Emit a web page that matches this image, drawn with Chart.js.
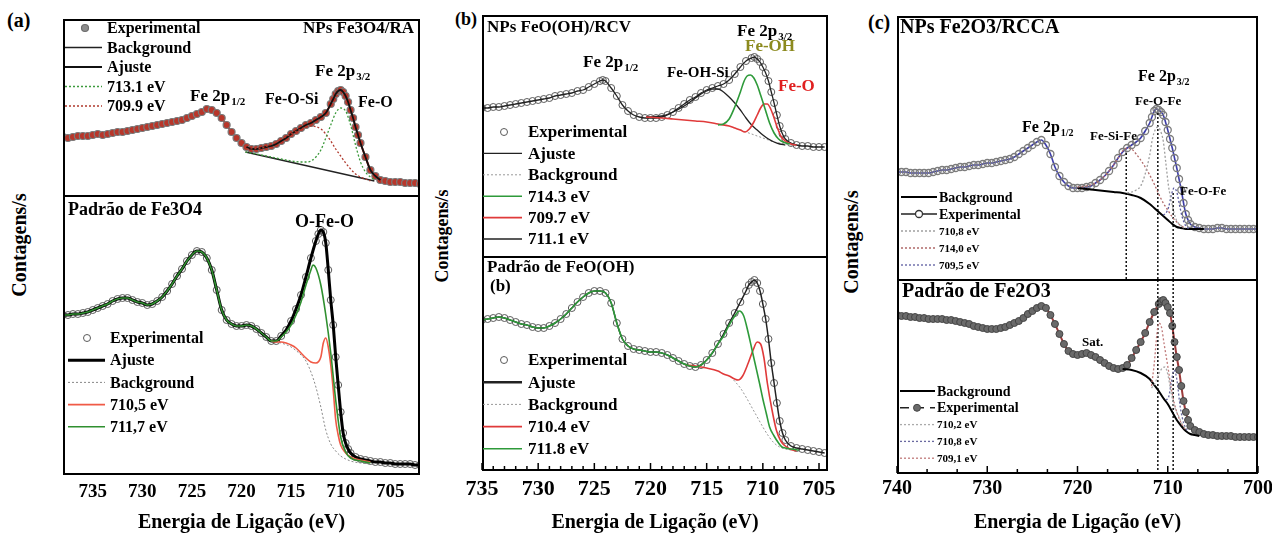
<!DOCTYPE html>
<html>
<head>
<meta charset="utf-8">
<script src="https://cdn.jsdelivr.net/npm/chart.js@4.4.0/dist/chart.umd.min.js"></script>
<style>
  body { margin: 0; background: #fff; width: 1272px; height: 535px; overflow: hidden; position: relative; }
  canvas { position: absolute; }
  .txt { position: absolute; font-family: "Liberation Serif", serif; font-weight: bold; color: #000; white-space: nowrap; }
  .ytitle { transform: translate(-50%, -50%) rotate(-90deg); }
</style>
</head>
<body>

<div class="txt" style="left:7px;top:9px;font-size:20px">(a)</div>
<div class="txt" style="left:455px;top:9px;font-size:18px">(b)</div>
<div class="txt" style="left:868px;top:11px;font-size:20px">(c)</div>

<div class="txt ytitle" style="left:19px;top:245px;font-size:20px">Contagens/s</div>
<div class="txt ytitle" style="left:442px;top:236px;font-size:18px">Contagens/s</div>
<div class="txt ytitle" style="left:851px;top:242px;font-size:20px">Contagens/s</div>

<canvas id="aTop" width="357" height="176" style="left:63px;top:19px"></canvas>
<canvas id="aBot" width="417" height="340" style="left:33px;top:195px"></canvas>
<canvas id="bTop" width="346" height="241" style="left:482px;top:15px"></canvas>
<canvas id="bBot" width="406" height="279" style="left:452px;top:256px"></canvas>
<canvas id="cTop" width="361" height="263" style="left:897px;top:16px"></canvas>
<canvas id="cBot" width="421" height="256" style="left:867px;top:279px"></canvas>

<script>
var SERIF = '"Liberation Serif", "DejaVu Serif", serif';
Chart.defaults.font.family = SERIF;

/////////////////////////////////////////////////////
// DATA  (binding energy in eV, intensity in arbitrary counts)
/////////////////////////////////////////////////////

// (a) top : NPs Fe3O4/RA
var aTopE = [738, 737.5, 737, 736.5, 736, 735.5, 735, 734.5, 734, 733.5, 733, 732.5, 732, 731.5, 731,
  730.5, 730, 729.5, 729, 728.5, 728, 727.5, 727, 726.5, 726,
  725.5, 725, 724.5, 724, 723.5, 723, 722.5, 722, 721.5, 721, 720.5, 720, 719.5, 719, 718.5, 718,
  717.5, 717, 716.5, 716, 715.5, 715, 714.5, 714, 713.5, 713, 712.5, 712, 711.5, 711,
  710.75, 710.5, 710.25, 710, 709.75, 709.5, 709.25, 709, 708.75, 708.5, 708.25, 708,
  707.5, 707, 706.5, 706, 705.5, 705, 704.5, 704, 703.5, 703, 702.5, 702];
var aTopExp = [58, 57, 58, 59, 59, 59, 60, 61, 60, 61, 62, 63, 63, 64, 65,
  66, 67, 68, 69, 70, 71, 72, 73, 74, 75,
  77, 79, 81, 83, 86, 85, 82, 77, 70, 63, 57, 52, 48, 46, 46, 47,
  48, 49, 51, 54, 57, 61, 64, 67, 70, 72, 75, 78, 82, 91,
  96, 101, 104, 105, 103, 99, 93, 85, 77, 68, 60, 52,
  38, 25, 19, 15, 14, 13, 13, 13, 12, 12, 12, 11];
var aTopBgE = [719.6, 706.6];
var aTopBg = [43, 14];
var aTopGreenE = [719.6, 718, 716, 714, 713.4, 713, 712.5, 712, 711.5, 711, 710.5, 710, 709.5, 709, 708.5, 708, 707.5, 707, 706.6];
var aTopGreen = [43, 40, 36, 33, 33, 34, 38, 45, 57, 70, 82, 87, 84, 70, 50, 33, 23, 18, 15];
var aTopRedE = [719.5, 718, 717, 716, 715, 714, 713, 712, 711.5, 711, 710.5, 710, 709.5, 709, 708.5, 708, 707.5, 707];
var aTopRed = [46, 47, 51, 56, 61, 66, 69, 66, 61, 54, 46, 39, 32, 26, 21, 18, 16, 14];

// (a) bottom : Padrão de Fe3O4
var aBotE = [738, 737.5, 737, 736.5, 736, 735.5, 735, 734.5, 734, 733.5, 733, 732.5, 732, 731.5, 731,
  730.5, 730, 729.5, 729, 728.5, 728,
  727.5, 727, 726.5, 726, 725.5, 725, 724.5, 724, 723.5, 723, 722.5, 722, 721.5, 721, 720.5, 720,
  719.5, 719, 718.5, 718, 717.5, 717, 716.5, 716, 715.5, 715, 714.5, 714, 713.5, 713, 712.5,
  712.25, 712, 711.75, 711.5, 711.25, 711, 710.75, 710.5, 710.25, 710, 709.75, 709.5, 709.25, 709,
  708.5, 708, 707.5, 707, 706.5, 706, 705.5, 705, 704.5, 704, 703.5, 703, 702.5, 702];
var aBotExp = [160, 160, 161, 161, 162, 163, 165, 167, 169, 171, 174, 176, 177, 177, 175,
  173, 172, 170, 171, 174, 178,
  184, 191, 199, 206, 214, 220, 224, 223, 217, 205, 185, 165, 155, 151, 149, 149,
  150, 149, 146, 142, 138, 134, 134, 139, 145, 154, 166, 180, 198, 217, 234,
  241, 245, 243, 232, 205, 175, 150, 118, 90, 63, 42, 32, 26, 22,
  18, 16, 15, 14, 13, 13, 12, 12, 11, 11, 11, 11, 10, 10];
var aBotGreenTailE = [716.5, 716, 715.5, 715, 714.5, 714, 713.5, 713, 712.8, 712.5, 712, 711.5, 711, 710.5, 710, 709.5, 709, 708, 707];
var aBotGreenTail = [134, 138, 143, 150, 160, 173, 190, 205, 210, 207, 190, 160, 122, 75, 38, 23, 17, 14, 12];
var aBotRedE = [717, 716.5, 716, 715.5, 715, 714.5, 714, 713.5, 713, 712.5, 712, 711.75, 711.5, 711.25, 711, 710.75, 710.5, 710.25, 710, 709.5, 709, 708.5, 708, 707];
var aBotRed = [134, 133, 133, 132, 130, 127, 122, 117, 113, 112, 118, 132, 137, 128, 110, 85, 55, 40, 30, 22, 18, 16, 15, 13];
var aBotBgE = [717, 716, 715, 714, 713.5, 713, 712.5, 712, 711.5, 711, 710.5, 710, 709, 708, 707];
var aBotBg = [134, 132, 128, 120, 114, 103, 88, 68, 45, 31, 24, 19, 14, 12, 11];

// (b) top : NPs FeO(OH)/RCV
var bTopE = [735, 734.5, 734, 733.5, 733, 732.5, 732, 731.5, 731, 730.5, 730, 729.5, 729, 728.5, 728,
  727.5, 727, 726.5, 726,
  725.5, 725, 724.5, 724.25, 724,
  723.5, 723, 722.5, 722, 721.5, 721, 720.5, 720, 719.5, 719, 718.5, 718, 717.5, 717, 716.5, 716,
  715.5, 715, 714.5, 714, 713.5, 713, 712.5, 712, 711.5, 711,
  710.75, 710.5, 710.25, 710, 709.75, 709.5, 709.25, 709, 708.75, 708.5, 708.25, 708,
  707.5, 707, 706.5, 706, 705.5, 705, 704.5];
var bTopExp = [148, 148, 149, 149, 150, 151, 152, 153, 154, 155, 156, 157, 158, 160, 161,
  162, 163, 165, 166,
  169, 172, 175, 176, 175,
  168, 160, 151, 145, 141, 139, 138, 138, 138, 139, 141, 144, 148, 152, 156, 159,
  163, 166, 168, 170, 172, 176, 182, 189, 195, 198,
  199, 197, 194, 189, 183, 175, 164, 153, 141, 130, 122, 117,
  113, 111, 110, 110, 109, 109, 109];
var bTopGreenE = [714, 713.5, 713, 712.5, 712, 711.7, 711.4, 711.1, 710.8, 710.5, 710.2, 709.8, 709.4, 709, 708.6, 708.2, 707.6];
var bTopGreen = [131, 132, 137, 149, 164, 174, 180, 181, 178, 171, 161, 147, 133, 123, 117, 114, 112];
var bTopRedE = [720.4, 719, 718, 717, 716, 715, 714, 713, 712.5, 712, 711.6, 711.2, 710.8, 710.5, 710.2, 709.9, 709.6, 709.3, 709, 708.7, 708.4, 708, 707.5, 707];
var bTopRed = [139, 138, 137, 136, 135, 134, 132, 130, 128, 126, 124, 127, 134, 141, 148, 152, 152, 147, 138, 128, 120, 115, 112, 111];
var bTopBlackE = [720.4, 719, 718, 717, 716, 715.5, 715, 714.5, 714, 713.5, 713, 712.5, 712, 711.5, 711, 710.5, 710, 709.5, 709, 708.5, 708];
var bTopBlack = [139, 140, 144, 150, 158, 162, 165, 167, 167, 164, 159, 153, 146, 138, 131, 126, 121, 117, 114, 112, 111];
var bTopBgE = [712, 711.5, 711, 710.5, 710, 709.5, 709, 708.5, 708, 707.5, 707];
var bTopBg = [126, 124, 122, 120, 118, 116, 114, 113, 112, 111, 110];

// (b) bottom : Padrão de FeO(OH)
var bBotE = [735, 734.5, 734, 733.5, 733, 732.5, 732, 731.5, 731, 730.5, 730, 729.5, 729, 728.5, 728,
  727.5, 727, 726.5, 726, 725.5, 725, 724.5, 724, 723.5, 723, 722.5, 722, 721.5, 721, 720.5, 720,
  719.5, 719, 718.5, 718, 717.5, 717, 716.5, 716, 715.5, 715, 714.5, 714, 713.5, 713, 712.5, 712, 711.5,
  711.25, 711, 710.75, 710.5, 710.25, 710, 709.75, 709.5, 709.25, 709, 708.75, 708.5, 708.25, 708,
  707.5, 707, 706.5, 706, 705.5, 705, 704.5];
var bBotExp = [151, 152, 153, 154, 153, 151, 149, 147, 146, 144, 143, 143, 145, 148, 152,
  157, 163, 169, 174, 178, 180, 180, 178, 168, 148, 132, 125, 122, 121, 120, 119,
  119, 118, 116, 113, 110, 107, 105, 104, 106, 111, 118, 127, 137, 148, 158, 169, 180,
  186, 189, 191, 188, 180, 167, 152, 132, 108, 88, 68, 50, 38, 31,
  25, 23, 22, 21, 20, 19, 18];
var bBotGreenTailE = [713.5, 713, 712.5, 712.1, 711.7, 711.3, 711, 710.7, 710.3, 710, 709.7, 709.4, 709, 708.6, 708.3, 708, 707.5, 706.8];
var bBotGreenTail = [135, 146, 155, 160, 155, 138, 123, 108, 88, 72, 58, 44, 35, 28, 24, 23, 22, 21];
var bBotRedE = [716.9, 716, 715, 714, 713.5, 713, 712.5, 712.2, 711.8, 711.3, 710.9, 710.5, 710.2, 709.9, 709.6, 709.2, 708.8, 708.4, 708, 707.6, 707];
var bBotRed = [106, 105, 103, 100, 97, 95, 92, 91, 95, 108, 120, 129, 127, 113, 88, 62, 41, 30, 25, 22, 20];
var bBotBgE = [712.6, 712, 711.5, 711, 710.5, 710, 709.5, 709, 708.5, 708, 707.5, 707];
var bBotBg = [91, 83, 74, 64, 54, 44, 35, 28, 24, 22, 21, 20];

// (c) top : NPs Fe2O3/RCCA
var cTopE = [740, 739.5, 739, 738.5, 738, 737.5, 737, 736.5, 736, 735.5, 735, 734.5, 734, 733.5, 733,
  732.5, 732, 731.5, 731, 730.5, 730, 729.5, 729, 728.5, 728, 727.5, 727,
  726.5, 726, 725.5, 725, 724.5, 724, 723.5, 723, 722.5, 722, 721.5, 721, 720.5, 720, 719.5, 719,
  718.5, 718, 717.5, 717, 716.5, 716, 715.5, 715, 714.5, 714, 713.5, 713, 712.5, 712,
  711.75, 711.5, 711.25, 711, 710.75, 710.5, 710.25, 710, 709.75, 709.5, 709.25, 709,
  708.75, 708.5, 708.25, 708, 707.75, 707.5,
  707, 706.5, 706, 705.5, 705, 704.5, 704, 703.5, 703, 702.5, 702, 701.5, 701, 700.5, 700];
var cTopExp = [107, 107, 107, 106, 106, 106, 106, 106, 107, 108, 109, 109, 110, 111, 112,
  112, 113, 114, 114, 115, 116, 116, 117, 118, 119, 120, 122,
  125, 128, 131, 134, 137, 139, 134, 125, 112, 103, 97, 93, 91, 91, 91, 92,
  93, 96, 99, 103, 108, 114, 121, 127, 131, 134, 137, 141, 148, 156,
  162, 168, 170, 169, 167, 164, 157, 149, 140, 131, 121, 111,
  100, 89, 76, 65, 59, 55,
  52, 51, 50, 50, 50, 51, 51, 50, 50, 50, 50, 50, 50, 50, 50];
var cTopBgE = [720, 719, 718, 717, 716, 715, 714, 713, 712, 711.5, 711, 710.5, 710, 709.5, 709, 708.5, 708, 707, 706];
var cTopBg = [91, 90, 89, 88, 87, 86, 84, 81, 75, 71, 67, 63, 59, 55, 52, 51, 50, 50, 50];
var cTopGrayE = [714.5, 714, 713.5, 713, 712.5, 712, 711.7, 711.4, 711.1, 710.8, 710.5, 710.2, 709.9, 709.6, 709.3, 709, 708.6, 708.2];
var cTopGray = [86, 87, 89, 93, 105, 124, 140, 149, 152, 148, 138, 115, 92, 78, 66, 58, 54, 51];
var cTopBrownE = [720, 719, 718, 717, 716.5, 716, 715.5, 715, 714.5, 714, 713.5, 713, 712.5, 712, 711.5, 711, 710.5, 710, 709.5, 709, 708.5, 708];
var cTopBrown = [92, 93, 96, 103, 108, 114, 121, 128, 131, 130, 125, 119, 112, 104, 95, 85, 76, 69, 62, 57, 53, 51];
var cTopBlueE = [710.5, 710.2, 709.9, 709.6, 709.3, 709, 708.7, 708.4, 708, 707.6];
var cTopBlue = [64, 66, 72, 84, 91, 87, 74, 62, 53, 50];
var cTopRefE = [714.6, 711.1, 709.4];
var cTopRefTop = [127, 166, 86];

// (c) bottom : Padrão de Fe2O3
var cBotE = [740, 739.5, 739, 738.5, 738, 737.5, 737, 736.5, 736, 735.5, 735, 734.5, 734, 733.5, 733,
  732.5, 732, 731.5, 731, 730.5, 730, 729.5, 729, 728.5, 728, 727.5, 727, 726.5, 726,
  725.5, 725, 724.5, 724, 723.5, 723, 722.5, 722, 721.5, 721, 720.5, 720, 719.5, 719, 718.5, 718,
  717.5, 717, 716.5, 716, 715.5, 715, 714.5, 714, 713.5, 713, 712.5, 712, 711.5, 711,
  710.75, 710.5, 710.25, 710, 709.75, 709.5, 709.25, 709, 708.75, 708.5, 708.25, 708, 707.75, 707.5,
  707, 706.5, 706, 705.5, 705, 704.5, 704, 703.5, 703, 702.5, 702, 701.5, 701, 700.5, 700];
var cBotExp = [159, 158, 158, 157, 157, 156, 156, 155, 155, 155, 155, 154, 154, 153, 152,
  151, 150, 148, 147, 146, 145, 145, 145, 146, 147, 149, 151, 153, 156,
  160, 163, 166, 168, 166, 159, 150, 140, 130, 123, 120, 119, 120, 121, 119, 117,
  114, 111, 108, 106, 105, 106, 109, 116, 124, 132, 141, 152, 162, 170,
  173, 174, 171, 167, 161, 148, 132, 117, 104, 88, 73, 62, 54, 48,
  44, 42, 40, 39, 39, 38, 38, 38, 38, 37, 37, 37, 37, 37, 37];
var cBotBgE = [715, 714, 713, 712, 711.5, 711, 710.5, 710, 709.5, 709, 708.5, 708, 707.5, 707, 706.5];
var cBotBg = [105, 104, 101, 95, 89, 83, 76, 70, 62, 54, 48, 43, 40, 39, 38];
var cBotGrayE = [711.8, 711.4, 711, 710.6, 710.3, 710, 709.6, 709.2, 708.8, 708.4, 708];
var cBotGray = [86, 91, 100, 106, 107, 100, 80, 66, 58, 50, 45];
var cBotBlueE = [710.2, 709.9, 709.6, 709.3, 709, 708.6, 708.2, 707.8];
var cBotBlue = [74, 77, 92, 104, 95, 66, 50, 43];
var cBotRedE = [711.8, 711.5, 711.2, 711, 710.7, 710.4, 710, 709.6, 709.2, 708.8, 708.4, 708];
var cBotRed = [88, 110, 140, 151, 147, 130, 108, 85, 68, 57, 49, 44];
var cBotRefE = [711.1, 709.4];

// tick labels
var abTicks = [735, 730, 725, 720, 715, 710, 705];
var cTicks = [740, 730, 720, 710, 700];

/////////////////////////////////////////////////////
// Helpers
/////////////////////////////////////////////////////

function xy(xs, ys) {
  return xs.map(function(x, i) { return { x: x, y: ys[i] }; });
}

// keep the part of a series that lies between two energies
function part(xs, ys, hi, lo) {
  var ox = [], oy = [];
  xs.forEach(function(x, i) {
    if (x <= hi && x >= lo) { ox.push(x); oy.push(ys[i]); }
  });
  return { x: ox, y: oy };
}

function curve(label, xs, ys, color, width, dash, order) {
  return {
    label: label, data: xy(xs, ys), showLine: true,
    borderColor: color, borderWidth: width, borderDash: dash || [],
    pointRadius: 0, cubicInterpolationMode: 'monotone', order: order, sample: 'line'
  };
}

function refLines(xs, tops, order) {
  return xs.map(function(x, i) {
    var d = curve('', [x, x], [0, tops[i]], '#111', 1.5, [2, 2], order);
    d.cubicInterpolationMode = 'default';
    d.noLegend = true;
    return d;
  });
}

function font(size) { return 'bold ' + size + 'px ' + SERIF; }

function drawNote(ctx, n, left, top) {
  var size = n.size || 17;
  var subSize = Math.round(size * 0.62);
  ctx.font = font(size);
  var w = ctx.measureText(n.t).width;
  var sw = 0;
  if (n.sub) {
    ctx.font = font(subSize);
    sw = ctx.measureText(n.sub).width + 1;
  }
  var x = left + n.x;
  if (n.align === 'right') x -= w + sw;
  var y = top + n.y;
  ctx.textAlign = 'left';
  ctx.textBaseline = 'middle';
  ctx.fillStyle = n.color || '#000';
  ctx.font = font(size);
  ctx.fillText(n.t, x, y);
  if (n.sub) {
    ctx.font = font(subSize);
    ctx.fillText(n.sub, x + w + 1, y + size * 0.32);
  }
}

function drawSample(ctx, ds, x0, x1, xm, y) {
  var k = ds.sample;
  if (k === 'line' || k === 'ringline' || k === 'dashline') {
    ctx.strokeStyle = ds.legendColor || ds.borderColor;
    ctx.lineWidth = ds.legendWidth || ds.borderWidth;
    ctx.setLineDash(ds.legendDash || ds.borderDash || []);
    ctx.beginPath();
    ctx.moveTo(x0, y);
    ctx.lineTo(x1, y);
    ctx.stroke();
    ctx.setLineDash([]);
  }
  if (k === 'dot' || k === 'ring' || k === 'ringline' || k === 'dashline') {
    ctx.beginPath();
    ctx.arc(xm, y, ds.pointRadius, 0, Math.PI * 2);
    ctx.fillStyle = ds.legendFill || ((k === 'dot' || k === 'dashline') ? ds.pointBackgroundColor : '#fff');
    ctx.fill();
    ctx.strokeStyle = ds.legendPointBorder || ds.pointBorderColor;
    ctx.lineWidth = ds.pointBorderWidth || 1;
    ctx.stroke();
  }
}

/////////////////////////////////////////////////////
// Frame, inner ticks, notes and legend plugin
/////////////////////////////////////////////////////

var decoById = {};

var decoPlugin = {
  id: 'deco',
  afterDatasetsDraw: function(chart) {
    var d = decoById[chart.canvas.id];
    if (!d) return;
    var ctx = chart.ctx, a = chart.chartArea, sx = chart.scales.x;
    ctx.save();

    // inward tick marks on the bottom edge
    if (d.step) {
      for (var k = -60; k < 60; k++) {
        var v = d.origin + k * d.step;
        if (v < sx.min - 0.01 || v > sx.max + 0.01) continue;
        var px = sx.getPixelForValue(v);
        var len = (k % d.majorEvery === 0) ? 7 : 4;
        ctx.strokeStyle = '#000';
        ctx.lineWidth = 1.5;
        ctx.beginPath();
        ctx.moveTo(px, a.bottom - 1);
        ctx.lineTo(px, a.bottom - 1 - len);
        ctx.stroke();
      }
    }

    // frame
    var l = a.left + 1, r = a.right - 1, t = a.top + 1, b = a.bottom - 1;
    ctx.strokeStyle = '#000';
    ctx.lineWidth = 2;
    ctx.beginPath();
    if (d.closed) {
      ctx.rect(l, t, r - l, b - t);
    } else {
      ctx.moveTo(l, a.bottom);
      ctx.lineTo(l, t);
      ctx.lineTo(r, t);
      ctx.lineTo(r, a.bottom);
    }
    ctx.stroke();

    // texts
    (d.notes || []).forEach(function(n) { drawNote(ctx, n, a.left, a.top); });

    // legend
    var lg = d.legend;
    var row = 0;
    chart.data.datasets.forEach(function(ds) {
      if (ds.noLegend) return;
      var y = a.top + lg.y + row * lg.rowH;
      drawSample(ctx, ds, a.left + lg.x0, a.left + lg.x1, a.left + lg.xm, y);
      ctx.font = font(ds.legendSize || lg.size);
      ctx.fillStyle = '#000';
      ctx.textAlign = 'left';
      ctx.textBaseline = 'middle';
      ctx.fillText(ds.label, a.left + lg.tx, y + 1);
      row++;
    });

    ctx.restore();
  }
};

function chartOptions(xMin, xMax, yMax, axis) {
  var o = {
    responsive: false,
    animation: false,
    events: [],
    layout: { autoPadding: false, padding: axis ? { left: 30, right: 30, top: 0, bottom: 0 } : 0 },
    plugins: { legend: { display: false }, tooltip: { enabled: false } },
    scales: {
      x: {
        type: 'linear', reverse: true, min: xMin, max: xMax, display: !!axis,
        grid: { display: false, drawTicks: false }, border: { display: false }
      },
      y: { type: 'linear', display: false, min: 0, max: yMax }
    }
  };
  if (axis) {
    o.scales.x.ticks = {
      color: '#000', padding: axis.pad, maxRotation: 0, autoSkip: false,
      font: { family: SERIF, size: axis.size, weight: 'bold' }
    };
    o.scales.x.afterBuildTicks = function(s) {
      s.ticks = axis.labels.map(function(v) { return { value: v }; });
    };
    o.scales.x.afterFit = function(s) { s.height = axis.height; };
    o.scales.x.title = {
      display: true, text: 'Energia de Ligação (eV)', color: '#000',
      font: { family: SERIF, size: 20, weight: 'bold' }, padding: { top: 0, bottom: 0 }
    };
  }
  return o;
}

function makeChart(id, datasets, options) {
  return new Chart(document.getElementById(id), {
    type: 'scatter',
    data: { datasets: datasets },
    options: options,
    plugins: [decoPlugin]
  });
}

/////////////////////////////////////////////////////
// Panel (a)
/////////////////////////////////////////////////////

var aTopFit = part(aTopE, aTopExp, 719.5, 706);
var aTopExpSet = curve('Experimental', aTopE, aTopExp, '#c0281c', 2, [], 5);
aTopExpSet.pointRadius = 3.5;
aTopExpSet.pointBackgroundColor = '#b8362a';
aTopExpSet.pointBorderColor = '#7a7a7a';
aTopExpSet.pointBorderWidth = 1.2;
aTopExpSet.sample = 'dot';
aTopExpSet.legendFill = '#8d8d8d';
aTopExpSet.legendPointBorder = '#6d6d6d';

decoById.aTop = {
  closed: false,
  notes: [
    { t: 'NPs Fe3O4/RA', x: 351, y: 10, size: 17, align: 'right' },
    { t: 'Fe 2p', sub: '1/2', x: 127, y: 78, size: 17 },
    { t: 'Fe 2p', sub: '3/2', x: 252, y: 53, size: 17 },
    { t: 'Fe-O-Si', x: 202, y: 81, size: 16 },
    { t: 'Fe-O', x: 295, y: 84, size: 16 }
  ],
  legend: { y: 9, rowH: 19.5, x0: 2, x1: 39, xm: 22, tx: 44, size: 16 }
};

makeChart('aTop', [
  aTopExpSet,
  curve('Background', aTopBgE, aTopBg, '#222', 1.3, [], 2),
  curve('Ajuste', aTopFit.x, aTopFit.y, '#111', 1.8, [], 1),
  curve('713.1 eV', aTopGreenE, aTopGreen, '#3c9a3c', 1.3, [2, 2], 0),
  curve('709.9 eV', aTopRedE, aTopRed, '#b03a2e', 1.3, [2, 2], 0)
], chartOptions(702, 738, 176, null));

var aBotGreen = part(aBotE, aBotExp, 738, 717);
var aBotExpSet = curve('Experimental', aBotE, aBotExp, '#000', 0, [], 5);
aBotExpSet.showLine = false;
aBotExpSet.pointRadius = 3.5;
aBotExpSet.pointBackgroundColor = 'rgba(255,255,255,0)';
aBotExpSet.pointBorderColor = '#5a5a5a';
aBotExpSet.pointBorderWidth = 1;
aBotExpSet.sample = 'ring';

decoById.aBot = {
  closed: true,
  notes: [
    { t: 'Padrão de Fe3O4', x: 5, y: 15, size: 18 },
    { t: 'O-Fe-O', x: 232, y: 27, size: 18 }
  ],
  legend: { y: 143, rowH: 22.2, x0: 5, x1: 42, xm: 24, tx: 47, size: 16 }
};

makeChart('aBot', [
  aBotExpSet,
  curve('Ajuste', aBotE, aBotExp, '#000', 3, [], 3),
  curve('Background', aBotBgE, aBotBg, '#888', 1, [2, 2], 2),
  curve('710,5 eV', aBotRedE, aBotRed, '#f05a46', 1.6, [], 1),
  curve('711,7 eV', aBotGreen.x.concat(aBotGreenTailE), aBotGreen.y.concat(aBotGreenTail), '#2f8f2f', 1.6, [], 0)
], chartOptions(702, 738, 280, { labels: abTicks, size: 19, pad: 6, height: 60 }));

/////////////////////////////////////////////////////
// Panel (b)
/////////////////////////////////////////////////////

function openCircles(label, xs, ys, order) {
  var d = curve(label, xs, ys, '#000', 0, [], order);
  d.showLine = false;
  d.pointRadius = 3.5;
  d.pointBackgroundColor = 'rgba(255,255,255,0)';
  d.pointBorderColor = '#5a5a5a';
  d.pointBorderWidth = 1;
  d.sample = 'ring';
  return d;
}

decoById.bTop = {
  closed: false,
  notes: [
    { t: 'NPs FeO(OH)/RCV', x: 5, y: 13, size: 17 },
    { t: 'Fe 2p', sub: '1/2', x: 101, y: 48, size: 17 },
    { t: 'Fe-OH-Si', x: 185, y: 58, size: 15 },
    { t: 'Fe 2p', sub: '3/2', x: 255, y: 17, size: 17 },
    { t: 'Fe-OH', x: 263, y: 32, size: 17, color: '#8c8a1e' },
    { t: 'Fe-O', x: 296, y: 72, size: 17, color: '#e02020' }
  ],
  legend: { y: 117, rowH: 21.4, x0: 1, x1: 40, xm: 22, tx: 46, size: 17 }
};

makeChart('bTop', [
  openCircles('Experimental', bTopE, bTopExp, 5),
  curve('Ajuste', bTopE, bTopExp, '#222', 1.3, [], 3),
  curve('Background', bTopBgE, bTopBg, '#999', 1, [2, 2], 2),
  curve('714.3 eV', bTopGreenE, bTopGreen, '#2e9a3a', 1.6, [], 1),
  curve('709.7 eV', bTopRedE, bTopRed, '#e03a3a', 1.6, [], 1),
  curve('711.1 eV', bTopBlackE, bTopBlack, '#222', 1.3, [], 1)
], chartOptions(704.2, 735, 241, null));

var bBotGreen = part(bBotE, bBotExp, 735, 714);
var bBotFit = curve('Ajuste', bBotE, bBotExp, '#222', 1.5, [], 3);
bBotFit.legendWidth = 2.5;

decoById.bBot = {
  closed: true,
  step: 1, origin: 705, majorEvery: 5,
  notes: [
    { t: 'Padrão de FeO(OH)', x: 5, y: 12, size: 17 },
    { t: '(b)', x: 8, y: 31, size: 17 }
  ],
  legend: { y: 104, rowH: 22.2, x0: 1, x1: 40, xm: 22, tx: 46, size: 17 }
};

makeChart('bBot', [
  openCircles('Experimental', bBotE, bBotExp, 5),
  bBotFit,
  curve('Background', bBotBgE, bBotBg, '#999', 1, [2, 2], 2),
  curve('710.4 eV', bBotRedE, bBotRed, '#e03a3a', 1.6, [], 1),
  curve('711.8 eV', bBotGreen.x.concat(bBotGreenTailE), bBotGreen.y.concat(bBotGreenTail), '#2e9a3a', 1.6, [], 0)
], chartOptions(704.2, 735, 215, { labels: abTicks, size: 22, pad: 5, height: 64 }));

/////////////////////////////////////////////////////
// Panel (c)
/////////////////////////////////////////////////////

var cTopExpSet = curve('Experimental', cTopE, cTopExp, '#3c3ca8', 1.6, [], 5);
cTopExpSet.pointRadius = 3.5;
cTopExpSet.pointBackgroundColor = 'rgba(255,255,255,0)';
cTopExpSet.pointBorderColor = '#7c7c7c';
cTopExpSet.pointBorderWidth = 1.3;
cTopExpSet.sample = 'ringline';
cTopExpSet.legendColor = '#222';
cTopExpSet.legendWidth = 1.5;
cTopExpSet.legendPointBorder = '#333';
cTopExpSet.legendSize = 14;

var cTopBgSet = curve('Background', cTopBgE, cTopBg, '#000', 2, [], 1);
cTopBgSet.legendSize = 14;

decoById.cTop = {
  closed: false,
  notes: [
    { t: 'NPs Fe2O3/RCCA', x: 3, y: 12, size: 20 },
    { t: 'Fe 2p', sub: '3/2', x: 241, y: 61, size: 16 },
    { t: 'Fe-O-Fe', x: 238, y: 86, size: 13 },
    { t: 'Fe 2p', sub: '1/2', x: 125, y: 112, size: 16 },
    { t: 'Fe-Si-Fe', x: 193, y: 121, size: 13 },
    { t: 'Fe-O-Fe', x: 283, y: 176, size: 13 }
  ],
  legend: { y: 181, rowH: 17, x0: 4, x1: 40, xm: 22, tx: 42, size: 11 }
};

makeChart('cTop', [
  cTopBgSet,
  cTopExpSet,
  curve('710,8 eV', cTopGrayE, cTopGray, '#a0a0a0', 1.3, [2, 2], 0),
  curve('714,0 eV', cTopBrownE, cTopBrown, '#b06a6a', 1.3, [2, 2], 0),
  curve('709,5 eV', cTopBlueE, cTopBlue, '#5c5ca0', 1.3, [2, 2], 0)
].concat(refLines(cTopRefE, cTopRefTop, 4)), chartOptions(700, 740, 263, null));

var cBotExpSet = curve('Experimental', cBotE, cBotExp, '#9c3c3c', 2, [], 5);
cBotExpSet.pointRadius = 3.5;
cBotExpSet.pointBackgroundColor = '#6a6a6a';
cBotExpSet.pointBorderColor = '#444';
cBotExpSet.pointBorderWidth = 1;
cBotExpSet.sample = 'dashline';
cBotExpSet.legendColor = '#222';
cBotExpSet.legendWidth = 1.5;
cBotExpSet.legendDash = [9, 6];
cBotExpSet.legendSize = 14;

var cBotBgSet = curve('Background', cBotBgE, cBotBg, '#000', 2, [], 1);
cBotBgSet.legendSize = 14;

decoById.cBot = {
  closed: true,
  step: 10 / 3, origin: 700, majorEvery: 3,
  notes: [
    { t: 'Padrão de Fe2O3', x: 5, y: 13, size: 20 },
    { t: 'Sat.', x: 185, y: 64, size: 13 }
  ],
  legend: { y: 112, rowH: 16.8, x0: 3, x1: 38, xm: 20, tx: 40, size: 11 }
};

makeChart('cBot', [
  cBotBgSet,
  cBotExpSet,
  curve('710,2 eV', cBotGrayE, cBotGray, '#aaaaaa', 1.3, [2, 2], 0),
  curve('710,8 eV', cBotBlueE, cBotBlue, '#6a6aa0', 1.3, [2, 2], 0),
  curve('709,1 eV', cBotRedE, cBotRed, '#c07a7a', 1.3, [2, 2], 0)
].concat(refLines(cBotRefE, [195, 195], 4)), chartOptions(700, 740, 195, { labels: cTicks, size: 20, pad: 3, height: 61 }));
</script>
</body>
</html>
